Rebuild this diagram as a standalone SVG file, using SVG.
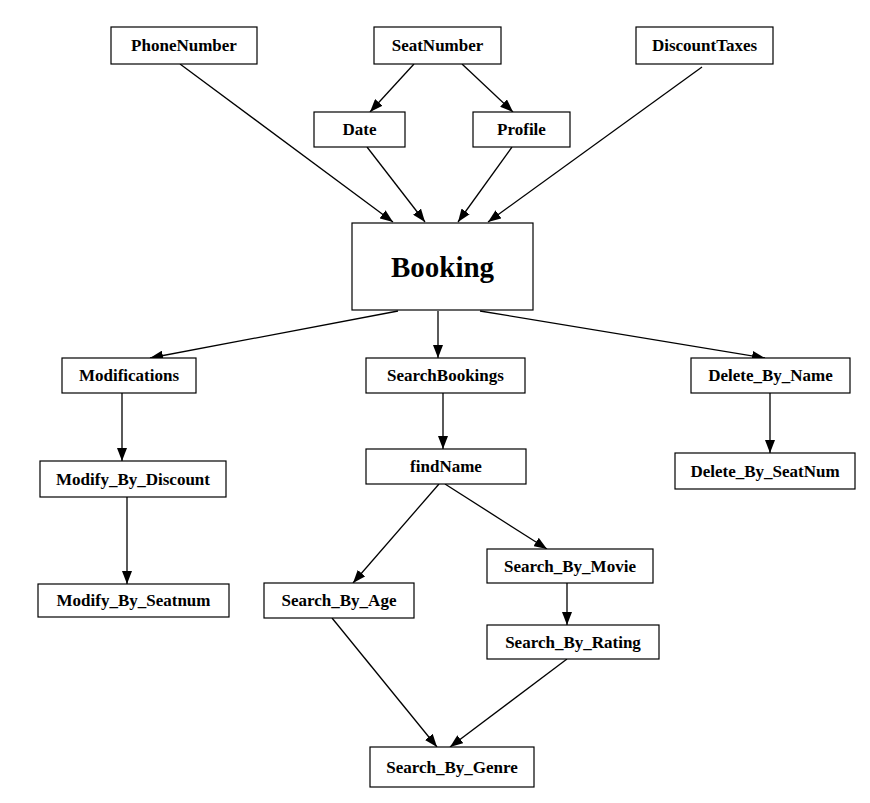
<svg xmlns="http://www.w3.org/2000/svg" width="870" height="803" viewBox="0 0 870 803">
<style>
.n rect{fill:#fff;stroke:#000;stroke-width:1.2}
.n text{font-family:"Liberation Serif",serif;font-weight:bold;font-size:17px;text-anchor:middle;dominant-baseline:central;fill:#000}
.c line{stroke:#000;stroke-width:1.3;marker-end:url(#a)}
</style>
<defs>
<marker id="a" markerUnits="userSpaceOnUse" markerWidth="14" markerHeight="10" refX="13" refY="5" orient="auto">
<path d="M0,0 L13,5 L0,10 z" fill="#000"/>
</marker>
</defs>
<rect width="870" height="803" fill="#fff"/>
<g class="c">
<line x1="180" y1="64" x2="393" y2="222"/>
<line x1="367" y1="147" x2="425" y2="222"/>
<line x1="512" y1="147" x2="458" y2="222"/>
<line x1="702" y1="67" x2="488" y2="222"/>
<line x1="414" y1="64" x2="370" y2="112"/>
<line x1="462" y1="64" x2="513" y2="112"/>
<line x1="398" y1="311" x2="150" y2="358"/>
<line x1="438" y1="311" x2="438" y2="358"/>
<line x1="480" y1="311" x2="765" y2="358"/>
<line x1="122" y1="393" x2="122" y2="461"/>
<line x1="127" y1="497" x2="127" y2="584"/>
<line x1="443" y1="393" x2="443" y2="449"/>
<line x1="770" y1="393" x2="770" y2="453"/>
<line x1="439" y1="484" x2="353" y2="583"/>
<line x1="445" y1="484" x2="547" y2="549"/>
<line x1="567" y1="583" x2="567" y2="625"/>
<line x1="332" y1="618" x2="437" y2="747"/>
<line x1="567" y1="659" x2="450" y2="747"/>
</g>
<g id="PhoneNumber" class="n"><rect x="111" y="27" width="146" height="37"/><text x="184" y="45.5">PhoneNumber</text></g>
<g id="SeatNumber" class="n"><rect x="374" y="27" width="127" height="37"/><text x="437.5" y="45.5">SeatNumber</text></g>
<g id="DiscountTaxes" class="n"><rect x="636" y="27" width="137" height="37"/><text x="704.5" y="45.5">DiscountTaxes</text></g>
<g id="Date" class="n"><rect x="314" y="112" width="91" height="35"/><text x="359.5" y="129.5">Date</text></g>
<g id="Profile" class="n"><rect x="473" y="112" width="97" height="35"/><text x="521.5" y="129.5">Profile</text></g>
<g id="Booking" class="n"><rect x="352" y="223" width="181" height="87"/><text x="442.5" y="267" style="font-size:29px">Booking</text></g>
<g id="Modifications" class="n"><rect x="62" y="358" width="134" height="35"/><text x="129" y="375.5">Modifications</text></g>
<g id="SearchBookings" class="n"><rect x="366" y="358" width="159" height="35"/><text x="445.5" y="375.5">SearchBookings</text></g>
<g id="Delete_By_Name" class="n"><rect x="691" y="358" width="159" height="35"/><text x="770.5" y="375.5">Delete_By_Name</text></g>
<g id="Modify_By_Discount" class="n"><rect x="40" y="461" width="186" height="36"/><text x="133" y="479">Modify_By_Discount</text></g>
<g id="findName" class="n"><rect x="366" y="449" width="160" height="35"/><text x="446" y="466.5">findName</text></g>
<g id="Delete_By_SeatNum" class="n"><rect x="675" y="453" width="180" height="36"/><text x="765" y="471">Delete_By_SeatNum</text></g>
<g id="Search_By_Movie" class="n"><rect x="487" y="549" width="166" height="34"/><text x="570" y="566">Search_By_Movie</text></g>
<g id="Modify_By_Seatnum" class="n"><rect x="38" y="584" width="191" height="33"/><text x="133.5" y="600.5">Modify_By_Seatnum</text></g>
<g id="Search_By_Age" class="n"><rect x="264" y="583" width="150" height="35"/><text x="339" y="600.5">Search_By_Age</text></g>
<g id="Search_By_Rating" class="n"><rect x="487" y="625" width="172" height="34"/><text x="573" y="642">Search_By_Rating</text></g>
<g id="Search_By_Genre" class="n"><rect x="370" y="747" width="164" height="40"/><text x="452" y="767">Search_By_Genre</text></g>
</svg>
